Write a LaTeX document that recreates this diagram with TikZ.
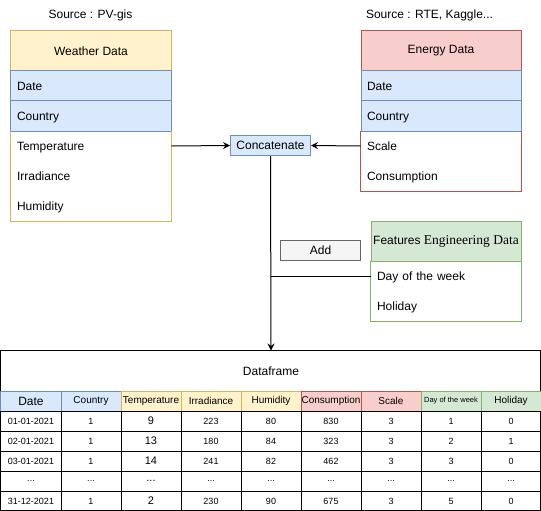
\documentclass[tikz,border=0pt]{standalone}
\usepackage{fontspec}
\setmainfont{Liberation Sans}
\newfontfamily\timesfont{Liberation Serif}
\usetikzlibrary{arrows.meta,positioning}

\definecolor{fillbl}{HTML}{DAE8FC}
\definecolor{drawbl}{HTML}{6C8EBF}
\definecolor{fillyel}{HTML}{FFF2CC}
\definecolor{drawyel}{HTML}{D6B656}
\definecolor{fillred}{HTML}{F8CECC}
\definecolor{drawred}{HTML}{B85450}
\definecolor{fillgrn}{HTML}{D5E8D4}
\definecolor{drawgrn}{HTML}{82B366}
\definecolor{fillgry}{HTML}{F5F5F5}
\definecolor{drawgry}{HTML}{666666}

\newcommand{\etcdots}{...}

\begin{document}
\begin{tikzpicture}[x=1pt,y=-1pt,line width=1pt,
    every node/.style={inner sep=0pt,font=\fontsize{12}{14}\selectfont},
    hdr/.style={draw,anchor=north west,minimum height=40pt},
    field/.style={anchor=north west,minimum height=30pt,inner xsep=6pt,align=left,text height=8.6pt,text depth=0pt},
    thead/.style={draw,anchor=north west,minimum width=60pt,minimum height=20pt},
    tcell/.style={draw,anchor=north west,minimum width=60pt,minimum height=20pt},
    arr/.style={-{Stealth[length=7pt,width=7pt,inset=2.5pt]}}]

\useasboundingbox (-0.5,-0.5) rectangle (540.5,510.5);

% weather data
\node (wsrc) at (90,15) {Source : PV-gis};
\node[hdr,minimum width=160pt,fill=fillyel,draw=drawyel] (weather) at (10,30) {Weather Data};
\node[field,text width=148pt,fill=fillbl,draw=drawbl] (wdate) at (10,70) {Date};
\node[field,text width=148pt,fill=fillbl,draw=drawbl] (wcountry) at (10,100) {Country};
\node[field,text width=148pt] (wtemp) at (10,130) {Temperature};
\node[field,text width=148pt] (wirr) at (10,160) {Irradiance};
\node[field,text width=148pt] (whum) at (10,190) {Humidity};
\draw[drawyel] (wtemp.north west) -- (whum.south west) -- (whum.south east) -- (wtemp.north east);

% energy data
\node (esrc) at (429,15) {Source : RTE, Kaggle...};
\node[hdr,minimum width=160pt,fill=fillred,draw=drawred] (energy) at (360,30) {Energy Data};
\node[field,text width=148pt,fill=fillbl,draw=drawbl] (edate) at (360,70) {Date};
\node[field,text width=148pt,fill=fillbl,draw=drawbl] (ecountry) at (360,100) {Country};
\node[field,text width=148pt] (escale) at (360,130) {Scale};
\node[field,text width=148pt] (econs) at (360,160) {Consumption};
\draw[drawred] (escale.north west) -- (econs.south west) -- (econs.south east) -- (escale.north east);

% features
\node[hdr,minimum width=150pt,fill=fillgrn,draw=drawgrn] (feat) at (370,220) {Features {\timesfont\fontsize{13.5}{15}\selectfont Engineering Data}};
\node[field,text width=138pt] (fday) at (370,260) {Day of the week};
\node[field,text width=138pt] (fhol) at (370,290) {Holiday};
\draw[drawgrn] (fday.north west) -- (fhol.south west) -- (fhol.south east) -- (fday.north east);

\node[draw=drawbl,fill=fillbl,minimum width=80pt,minimum height=20pt] (concat) at (270,145) {Concatenate};
\node[draw=drawgry,fill=fillgry,minimum width=80pt,minimum height=20pt] (add) at (320,250) {Add};

% dataframe
\draw (0,350) rectangle (540,510);
\node[hdr,minimum width=540pt,draw=none] (frame) at (0,350) {Dataframe};

\foreach \t/\c/\s [count=\i from 0] in {Date/bl/12,Country/bl/10,Temperature/yel/10,Irradiance/yel/10,Humidity/yel/10,Consumption/red/10,Scale/red/10,Day of the week/grn/7.5,Holiday/grn/10}
    \node[thead,fill=fill\c,draw=draw\c,font=\fontsize{\s}{\s}\selectfont] (h\i) at (60*\i,390) {\t};

\foreach \row [count=\j from 0] in {{01-01-2021,1,9,223,80,830,3,1,0},{02-01-2021,1,13,180,84,323,3,2,1},{03-01-2021,1,14,241,82,462,3,3,0},{\etcdots,\etcdots,\etcdots,\etcdots,\etcdots,\etcdots,\etcdots,\etcdots,\etcdots},{31-12-2021,1,2,230,90,675,3,5,0}}
    \foreach \v [count=\i from 0] in \row
        \node[tcell,font={\ifnum\i=2 \fontsize{11}{13}\selectfont\else\fontsize{9}{11}\selectfont\fi}] (d\j-\i) at (60*\i,410+20*\j) {\v};

% connectors
\coordinate (tee) at (concat.south |- fday.west);
\draw[arr] (wtemp.east) -- (concat.west);
\draw[arr] (escale.west) -- (concat.east);
\draw[arr] (concat.south) -- (frame.north);
\draw (fday.west) -- (tee);

\end{tikzpicture}
\end{document}
